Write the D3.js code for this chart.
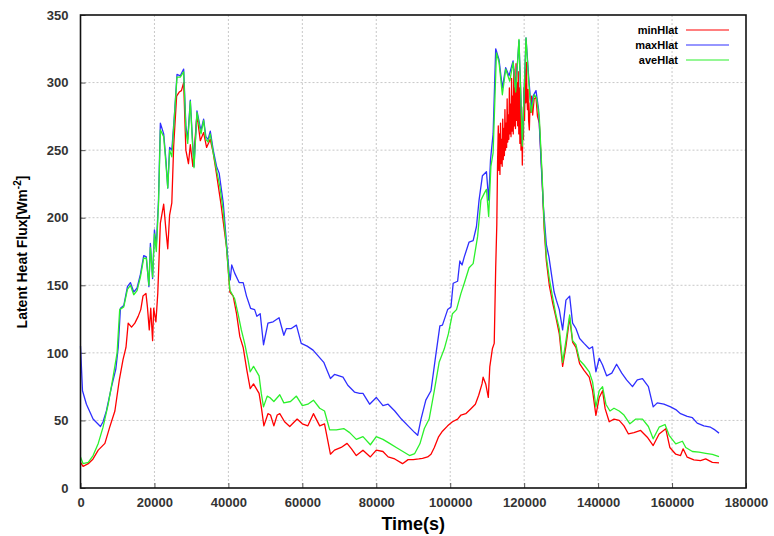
<!DOCTYPE html>
<html>
<head>
<meta charset="utf-8">
<script src="https://cdn.jsdelivr.net/npm/d3@7"></script>
<style>
  body { margin: 0; background: #fff; }
  svg { display: block; font-family: "Liberation Sans", Arial, sans-serif; }
</style>
</head>
<body>
<svg id="chart" width="774" height="536"></svg>
<script>
// [time (s), latent heat flux (W m-2)]
const minHlat = [[0,19],[700,16],[2100,18],[3400,21.5],[4800,28],[6600,33],[7900,45],[9300,57],[10500,80],[11500,95],[12300,104],[12900,122],[13800,119],[14700,122],[15600,127],[16300,132],[16900,142],[17700,144],[18100,134],[18600,117],[19000,133],[19500,109],[19800,133],[20400,123],[20900,144],[21600,196],[22500,210],[23100,191],[23600,177],[24100,202],[24700,211],[25200,253],[26000,290],[26700,293],[27300,294],[27900,300],[28500,250],[29200,240],[29700,254],[30400,238],[31500,276],[32400,257],[33300,263],[34100,252],[35100,258],[35900,248],[36800,232],[38000,210],[39500,178],[40400,145],[41300,142],[42200,129],[43100,112],[44000,104],[45000,87],[45900,73.5],[46800,77],[48300,70],[48900,60],[49600,46],[50700,55],[51400,54],[52300,46],[53200,54],[53900,55],[55200,49],[56600,45.5],[58600,51],[60000,47.5],[61500,46],[63000,55],[64700,46],[66000,47.5],[67600,25],[68700,28],[70500,30],[72100,33],[73300,29],[74600,24],[76400,28],[78400,23],[80000,28],[81800,27],[83200,23],[85000,21.5],[87100,18],[88600,21],[90000,21],[91500,21.5],[92500,22],[93900,23],[94800,25],[95700,30],[96800,37.6],[97900,42],[99300,46],[100600,49],[102000,51],[102900,54],[104200,55],[105600,58.7],[106800,62],[107700,68.6],[108600,77],[108900,82],[109600,77],[110300,67],[110700,89.6],[111400,103],[111900,107],[112300,163],[112600,195],[112800,240],[113000,268],[113150,235],[113300,262],[113450,232],[113600,270],[113750,240],[113900,258],[114050,238],[114200,273],[114350,243],[114500,266],[114650,246],[114800,280],[114950,250],[115100,270],[115250,252],[115400,288],[115550,256],[115700,276],[115850,258],[116000,296],[116150,262],[116300,284],[116450,260],[116600,303],[116750,264],[116900,290],[117050,262],[117200,310],[117350,268],[117500,296],[117650,266],[117800,314],[117950,272],[118100,300],[118250,268],[118400,308],[118550,262],[118700,296],[118850,255],[119000,300],[119150,250],[119300,282],[119500,239],[119650,270],[119800,258],[119950,296],[120100,272],[120300,310],[120450,285],[120600,315],[120750,290],[120900,280],[121050,295],[121200,272],[121400,265],[121600,285],[121800,278],[122000,290],[122300,276],[122700,288],[123200,289],[123600,275],[124100,270],[124800,232],[125400,192],[126000,168],[126800,150],[127700,137],[128600,126],[129500,114],[130400,90],[131300,105],[132300,126],[133100,108],[134000,104],[135000,92],[136200,87],[137600,82],[138500,72],[139400,53.7],[140300,67],[141200,72],[141900,58.7],[143000,49],[144300,51],[145700,50],[147000,46],[148200,40],[149700,41],[151500,42.6],[153300,37.6],[154900,31.4],[156500,40],[158300,43.8],[159400,30],[161000,25],[162300,24],[163000,29],[164100,22.8],[165900,20.8],[167700,20.3],[169100,21.5],[170900,19],[172700,18.6]];

const maxHlat = [[0,105],[540,72],[1600,62],[3400,51],[5400,45.5],[6100,49],[7000,57],[8400,75],[9550,88],[10200,104],[10800,133],[11700,135],[12700,149],[13500,152],[14400,145],[15300,148],[16200,158],[17100,172],[17800,171],[18500,149],[18900,181],[19500,155],[20000,191],[20500,179],[21100,213],[21600,270],[22500,262],[23100,243],[23600,222],[24100,252],[24700,250],[25400,276],[26100,306],[27000,305],[27900,310],[28500,268],[29000,258],[29700,287],[30300,257],[30700,238],[31500,279],[32300,268],[32600,265],[33300,273],[33900,260],[34500,258],[35100,264],[35900,250],[36800,238],[37500,233],[38600,211],[39500,181],[40200,159],[40500,154],[40900,165],[41700,159],[42900,152],[44000,152],[44900,142],[46000,133],[47100,132],[47700,127],[48600,129],[49500,106],[50700,122],[52100,123],[53700,126],[55000,113],[55700,118],[57000,118],[58400,120.5],[59700,107],[61300,105],[62900,102],[64200,98],[65800,93],[66700,87],[67600,81],[68700,84],[71000,82],[72300,76],[74100,71],[75500,70],[76400,70],[78200,62],[80000,67],[81800,61],[83200,62],[85000,57],[86800,51],[88600,46],[90400,41],[91200,39],[92100,51],[93400,65],[94800,72],[95900,94.5],[97200,120],[97900,120.5],[99300,132],[100200,134],[100800,151.5],[102000,153],[102600,168],[103200,165],[103800,171],[105100,182],[106200,183],[107100,193.5],[107800,213],[108700,231],[109800,234],[110400,213],[110900,243],[111600,262],[112300,325],[113200,317],[114100,296],[115000,311],[115900,305],[117000,316],[117700,295],[118600,331],[119500,255],[120500,333],[121200,305],[121900,280],[122400,290],[123200,294],[123900,280],[124600,240],[125200,208],[126000,180],[126700,171],[127500,156],[128100,145],[128700,139],[129500,132],[130400,117],[131300,139],[132300,142],[133100,122],[134000,118],[135000,110.6],[136200,107],[137600,103],[138500,104.5],[139400,86],[140300,96],[141200,91],[142300,83],[143700,85],[145000,91.6],[146400,85],[147700,80],[149300,75],[150600,80],[152000,81],[153600,75],[154900,60],[156000,63],[157800,62],[159600,60],[161000,58],[162300,55],[164100,53],[165500,52],[166800,48],[168600,46],[170400,45],[171600,43],[172700,40.6]];

const aveHlat = [[0,23],[700,18],[2100,19],[3400,24],[4800,33],[6100,45],[7500,62],[8800,82],[9900,100],[10600,132],[11700,134],[12700,147],[13500,150],[14400,143],[15300,146],[16200,156],[17100,170],[17800,170],[18500,150],[18900,178],[19500,156],[20000,188],[20500,175],[21100,210],[21600,265],[22500,260],[23100,240],[23600,222],[24100,250],[24700,245],[25400,275],[26100,304],[27000,304],[27900,308],[28500,265],[29000,255],[29700,286],[30300,255],[30700,237],[31500,278],[32300,266],[32600,262],[33300,272],[33900,258],[34500,256],[35100,262],[35900,248],[36800,235],[37700,223],[38600,205],[39500,178],[40400,146.5],[41700,140],[42600,129],[43500,117],[44400,107],[45300,95],[45900,86],[46800,90],[48300,83],[48900,70],[49500,60],[50500,68],[51200,67],[52300,64],[53900,69],[55000,63],[56800,64],[58400,68],[60000,61],[61500,62],[63000,65],[64700,59],[66000,57],[67400,43],[69200,43],[71200,44],[72800,41],[74600,36],[76400,38],[78400,32],[80000,38],[81800,36],[83600,33],[85400,30],[87200,27],[89000,24],[90400,25.5],[91800,32.7],[93000,44],[94300,51],[95700,72],[97000,93],[98400,103],[99500,114],[100600,129],[101700,132],[102900,144],[103800,151.5],[105100,163],[106200,166],[107400,186],[108300,213],[109200,218],[109800,221],[110400,201],[111000,238],[111600,248],[112500,322],[113200,315],[114100,291],[115000,310],[116100,301],[117000,315],[117700,293],[118600,332],[119500,253],[120500,333],[121200,302],[121900,278],[122700,291],[123300,289],[124100,274],[124800,235],[125400,196],[126000,171],[126800,155],[127700,141],[128600,128],[129500,118],[130400,93],[131300,109],[132300,128],[133100,109],[134000,106],[135000,94.5],[136200,91],[137600,86],[138500,78.5],[139400,60],[140300,72],[141200,75],[142100,62],[143200,57],[144300,59],[145700,57],[147000,54],[148600,47.5],[150200,51],[152000,51],[153600,45.5],[154900,36.4],[156500,45],[158100,47],[159200,39],[161000,32.7],[162800,34.6],[163700,30],[165500,27],[167300,26.5],[169100,25.7],[170900,24.8],[172700,23.3]];

const seriesNames = ["minHlat", "maxHlat", "aveHlat"];
const seriesColors = ["#ff0000", "#2f2fff", "#2cf02c"];
const xTicks = [0, 20000, 40000, 60000, 80000, 100000, 120000, 140000, 160000, 180000];
const yTicks = [0, 50, 100, 150, 200, 250, 300, 350];

const svg = d3.select("#chart");
const plotLeft = 80.5, plotRight = 746, plotTop = 15, plotBottom = 488;

const x = d3.scaleLinear().domain([0, 180000]).range([plotLeft, plotRight]);
const y = d3.scaleLinear().domain([0, 350]).range([plotBottom, plotTop]);

// dotted grid
svg.append("g").selectAll("line")
    .data(xTicks.slice(1, -1))
    .enter().append("line")
    .attr("x1", d => x(d)).attr("x2", d => x(d))
    .attr("y1", plotTop).attr("y2", plotBottom)
    .attr("stroke", "#c8c8c8").attr("stroke-dasharray", "2,2");
svg.append("g").selectAll("line")
    .data(yTicks.slice(1, -1))
    .enter().append("line")
    .attr("x1", plotLeft).attr("x2", plotRight)
    .attr("y1", d => y(d)).attr("y2", d => y(d))
    .attr("stroke", "#c8c8c8").attr("stroke-dasharray", "2,2");

// axes, ticks pointing inwards
const xAxis = svg.append("g")
    .attr("transform", `translate(0,${plotBottom})`)
    .call(d3.axisBottom(x).tickValues(xTicks).tickSizeInner(-5).tickSizeOuter(0).tickPadding(10).tickFormat(d3.format("d")));
const yAxis = svg.append("g")
    .attr("transform", `translate(${plotLeft},0)`)
    .call(d3.axisLeft(y).tickValues(yTicks).tickSizeInner(-5).tickSizeOuter(0).tickPadding(12).tickFormat(d3.format("d")));

[xAxis, yAxis].forEach(a => {
    a.select(".domain").remove();
    a.selectAll(".tick line").attr("stroke", "#555");
    a.selectAll("text")
        .attr("fill", "#333")
        .style("font-size", "13px")
        .style("font-weight", "bold");
});

// series
const line = d3.line().x(d => x(d[0])).y(d => y(d[1]));
[minHlat, maxHlat, aveHlat].forEach((data, i) => {
    svg.append("path")
        .datum(data)
        .attr("d", line)
        .attr("fill", "none")
        .attr("stroke", seriesColors[i])
        .attr("stroke-width", 1.3)
        .attr("stroke-linejoin", "round");
});

// frame
svg.append("rect")
    .attr("x", plotLeft).attr("y", plotTop)
    .attr("width", plotRight - plotLeft).attr("height", plotBottom - plotTop)
    .attr("fill", "none").attr("stroke", "#111").attr("stroke-width", 1.6);

// legend
const legend = svg.append("g");
seriesNames.forEach((name, i) => {
    const ly = 30 + i * 15;
    legend.append("text")
        .attr("x", 678).attr("y", ly + 4)
        .attr("text-anchor", "end")
        .style("font-size", "11px").style("font-weight", "bold")
        .text(name);
    legend.append("line")
        .attr("x1", 686).attr("x2", 729)
        .attr("y1", ly).attr("y2", ly)
        .attr("stroke", seriesColors[i]).attr("stroke-width", 1.2);
});

// axis titles
svg.append("text")
    .attr("x", (plotLeft + plotRight) / 2).attr("y", 530)
    .attr("text-anchor", "middle")
    .style("font-size", "18px").style("font-weight", "bold")
    .text("Time(s)");

const yTitle = svg.append("text")
    .attr("transform", "translate(27,252) rotate(-90)")
    .attr("text-anchor", "middle")
    .style("font-size", "14px").style("font-weight", "bold");
yTitle.append("tspan").text("Latent Heat Flux[Wm");
yTitle.append("tspan").attr("dy", -6).style("font-size", "10px").text("-2");
yTitle.append("tspan").attr("dy", 6).text("]");
</script>
</body>
</html>
